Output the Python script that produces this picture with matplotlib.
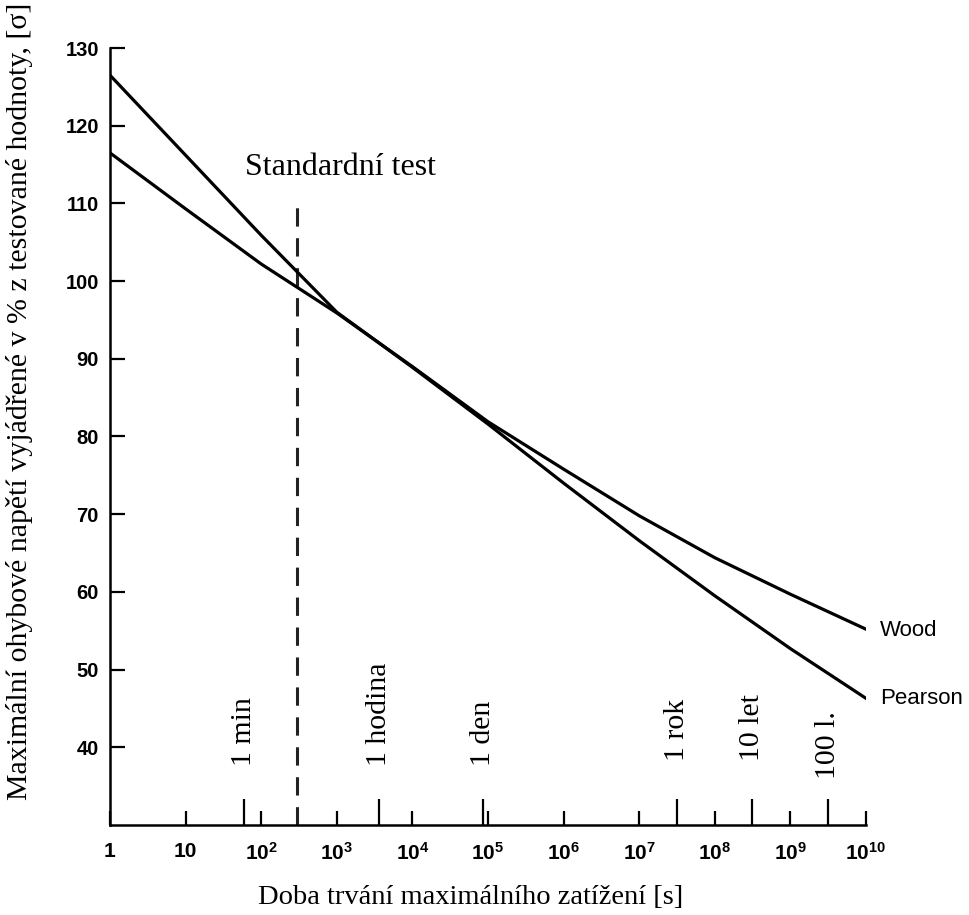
import matplotlib.pyplot as plt
from matplotlib.ticker import FixedLocator, FixedFormatter, NullFormatter

# load duration [s] and strength in % of test value
t = [1, 1e1, 1e2, 1e3, 1e4, 1e5, 1e6, 1e7, 1e8, 1e9, 1e10]
pearson = [126.5, 116.2, 105.9, 96.0, 88.9, 81.6, 74.0, 66.6, 59.5, 52.7, 46.3]
wood = [116.5, 109.3, 102.2, 95.9, 89.0, 81.9, 75.8, 69.8, 64.4, 59.7, 55.2]

standard_test = 300
marks = [60, 3600, 86400, 3.15e7, 3.15e8, 3.15e9]
mark_labels = ['1 min', '1 hodina', '1 den', '1 rok', '10 let', '100 l.']
mark_label_y = [37.6, 37.6, 37.6, 38.2, 38.2, 35.9]

decades = [10 ** k for k in range(11)]
decade_labels = ['1', '10'] + [r'$\mathregular{10^{%d}}$' % k for k in range(2, 11)]
yticks = [40, 50, 60, 70, 80, 90, 100, 110, 120, 130]

serif = 'Liberation Serif'
sans = 'Liberation Sans'

fig = plt.figure(figsize=(9.7, 9.15), dpi=100)
ax = fig.add_axes([110 / 970, 1 - 825 / 915, 756 / 970, 777 / 915])

ax.plot(t, pearson, color='black', lw=2.3, zorder=2)
ax.plot(t, wood, color='black', lw=2.3, zorder=2)

ax.set_xscale('log')
ax.set_xlim(1, 1e10)
ax.set_ylim(30, 130)

# standard test duration
ax.vlines(standard_test, 30, 110, colors='#222222', lw=2.2,
          linestyles=(0, (6, 3.8)), zorder=1)
fig.text(341 / 970, 1 - 168 / 915, 'Standardní test', family=serif,
         fontsize=23, ha='center', va='center')

for x, lab, y in zip(marks, mark_labels, mark_label_y):
    ax.text(x, y, lab, family=serif, fontsize=21.5, rotation=90,
            ha='center', va='bottom', zorder=3,
            bbox=dict(fc='white', ec='none', pad=7))

ax.annotate('Wood', xy=(t[-1], wood[-1]), xytext=(10, -1),
            textcoords='offset points', family=sans, fontsize=16,
            va='center', ha='left', annotation_clip=False)
ax.annotate('Pearson', xy=(t[-1], pearson[-1]), xytext=(10, 0),
            textcoords='offset points', family=sans, fontsize=16,
            va='center', ha='left', annotation_clip=False)

for s in ['top', 'right']:
    ax.spines[s].set_visible(False)
for s in ['left', 'bottom']:
    ax.spines[s].set_linewidth(1.8)

ax.xaxis.set_major_locator(FixedLocator(decades))
ax.xaxis.set_major_formatter(FixedFormatter(decade_labels))
ax.xaxis.set_minor_locator(FixedLocator(marks))
ax.xaxis.set_minor_formatter(NullFormatter())
ax.tick_params(axis='x', which='major', direction='in', length=10, width=1.6,
               pad=12, labelsize=15)
ax.tick_params(axis='x', which='minor', direction='in', length=19, width=1.6)

ax.set_yticks(yticks)
ax.tick_params(axis='y', direction='in', length=11, width=1.6, pad=8,
               labelsize=14.5)
for lab in ax.get_xticklabels() + ax.get_yticklabels():
    lab.set_family(sans)
    lab.set_fontweight('bold')

fig.text(471 / 970, 1 - 897 / 915, 'Doba trvání maximálního zatížení [s]',
         family=serif, fontsize=20.5, ha='center', va='center')
fig.text(20 / 970, 1 - 401 / 915,
         'Maximální ohybové napětí vyjádřené v % z testované hodnoty, [σ]',
         family=serif, fontsize=21.5, rotation=90, ha='center', va='center')

fig.savefig('out.png', dpi=100)
